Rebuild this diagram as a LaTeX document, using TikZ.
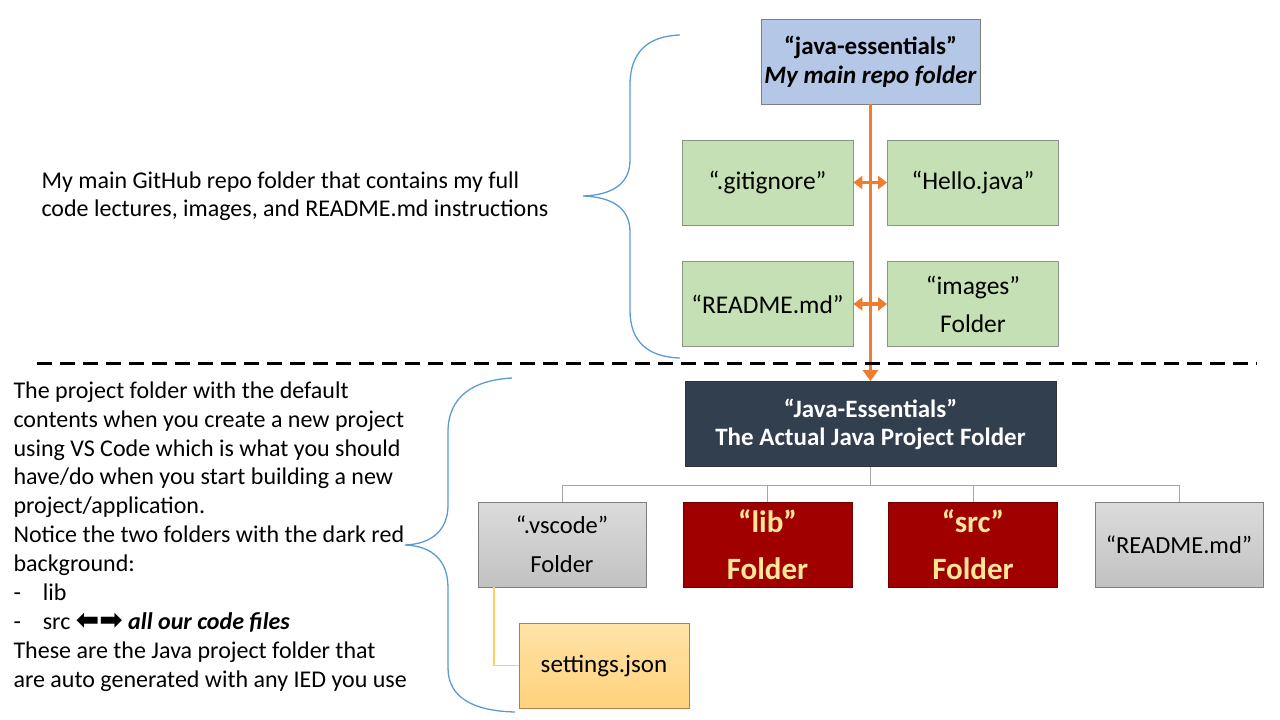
\documentclass[tikz,border=0pt]{standalone}
\usepackage{fontspec}
\setmainfont{Carlito}
\newfontfamily\arrowfont{DejaVu Sans}
\usetikzlibrary{arrows.meta, positioning}

\definecolor{repoblue}{HTML}{B4C7E7}
\definecolor{filegreen}{HTML}{C5E0B4}
\definecolor{projdark}{HTML}{323F4F}
\definecolor{foldred}{HTML}{A00000}
\definecolor{foldtext}{HTML}{FFE699}
\definecolor{linkorange}{HTML}{ED7D31}
\definecolor{braceblue}{HTML}{5B9BD5}
\definecolor{treegray}{HTML}{A6A6A6}
\definecolor{jsonline}{HTML}{FFD05A}
\definecolor{jsontop}{HTML}{FFE3A6}
\definecolor{jsonbottom}{HTML}{FFD27C}
\definecolor{edgegray}{HTML}{7F7F7F}

\tikzset{
  box/.style={draw=edgegray, line width=0.8pt, minimum height=85, inner sep=2pt, align=center},
  repobox/.style={box, fill=repoblue, minimum width=219, font=\fontsize{25}{29}\selectfont\bfseries},
  filebox/.style={box, fill=filegreen, draw=edgegray!80!filegreen, minimum width=171, font=\fontsize{25.5}{38}\selectfont},
  projbox/.style={box, fill=projdark, draw=black!80, minimum width=371, text=white, font=\fontsize{25}{28}\selectfont\bfseries},
  grayfolder/.style={box, top color=gray!28, bottom color=gray!48, minimum width=168, font=\fontsize{24.5}{39}\selectfont},
  redfolder/.style={box, fill=foldred, draw=foldred!70!black, minimum width=169, text=foldtext, font=\fontsize{31}{47}\selectfont\bfseries},
  jsonbox/.style={box, draw=edgegray!60!orange, top color=jsontop, bottom color=jsonbottom, minimum width=170, font=\fontsize{25}{28}\selectfont},
  linkarrow/.style={draw=linkorange, line width=3.4pt, {Triangle[length=9pt,width=13pt]}-{Triangle[length=9pt,width=13pt]}},
  treeline/.style={draw=treegray, line width=1pt},
  bracepath/.style={draw=braceblue, line width=1.3pt},
  note/.style={align=left, font=\fontsize{24}{28}\selectfont}
}

\begin{document}
\begin{tikzpicture}[x=1pt, y=-1pt]
\useasboundingbox (0,0) rectangle (1280,720);
%top repo folder
\node[repobox] (repo) at (870.5,61.5) {``java-essentials''\\\textit{My main repo folder}};
\node[filebox] (gitignore) at (767.5,182.5) {``.gitignore''};
\node[filebox] (hello) at (973,182.5) {``Hello.java''};
\node[filebox] (readmetop) at (767.5,304) {``README.md''};
\node[filebox] (images) at (973,304) {``images''\\Folder};
%project folder
\node[projbox] (project) at (870.5,424) {``Java-Essentials''\\The Actual Java Project Folder};
\node[grayfolder] (vscode) at (562,544.5) {``.vscode''\\Folder};
\node[redfolder] (lib) at (767.5,544.5) {``lib''\\Folder};
\node[redfolder] (src) at (973,544.5) {``src''\\Folder};
\node[grayfolder] (readme) at (1179,544.5) {``README.md''};
\node[jsonbox] (settings) at (604,665.5) {settings.json};
%orange links
\draw[draw=linkorange, line width=3.6pt, -{Triangle[length=11pt,width=15pt]}] (repo.south) -- (project.north);
\draw[linkarrow] (gitignore) -- (hello);
\draw[linkarrow] (readmetop) -- (images);
%tree lines
\foreach \k in {vscode, lib, src, readme}{
\draw[treeline] (project.south) -- ++(0,19) -| (\k.north); }
\draw[draw=jsonline, line width=1.2pt] ([xshift=-68]vscode.south) |- (settings.west);
%dashed separator
\draw[line width=3pt, dash pattern=on 15pt off 8pt] (37,363) -- (1257,363);
%braces
\draw[bracepath] (680,35) .. controls (648,36) and (630,52) .. (630,85) -- (630,160)
  .. controls (630,184) and (612,195) .. (583,196) .. controls (612,197) and (630,208) .. (630,232)
  -- (630,310) .. controls (630,342) and (648,357) .. (680,358);
\draw[bracepath] (512,378) .. controls (474,380) and (448,396) .. (448,432) -- (448,505)
  .. controls (448,530) and (432,544) .. (405,545) .. controls (432,546) and (448,560) .. (448,588)
  -- (448,668) .. controls (448,698) and (474,711) .. (515,712);
%notes
\node[note, anchor=west] (reponote) at (38,196) {My main GitHub repo folder that contains my full\\code lectures, images, and README.md instructions};
\node[note, anchor=north west, font=\fontsize{24}{28.9}\selectfont] (projnote) at (10,378) {The project folder with the default\\
contents when you create a new project\\
using VS Code which is what you should\\
have/do when you start building a new\\
project/application.\\
Notice the two folders with the dark red\\
background:\\
-\hspace{22pt}lib\\
-\hspace{22pt}src {\arrowfont\bfseries\fontsize{28}{28.9}\selectfont ⬅➡} \textbf{\textit{all our code files}}\\
These are the Java project folder that\\
are auto generated with any IED you use};
\end{tikzpicture}
\end{document}
